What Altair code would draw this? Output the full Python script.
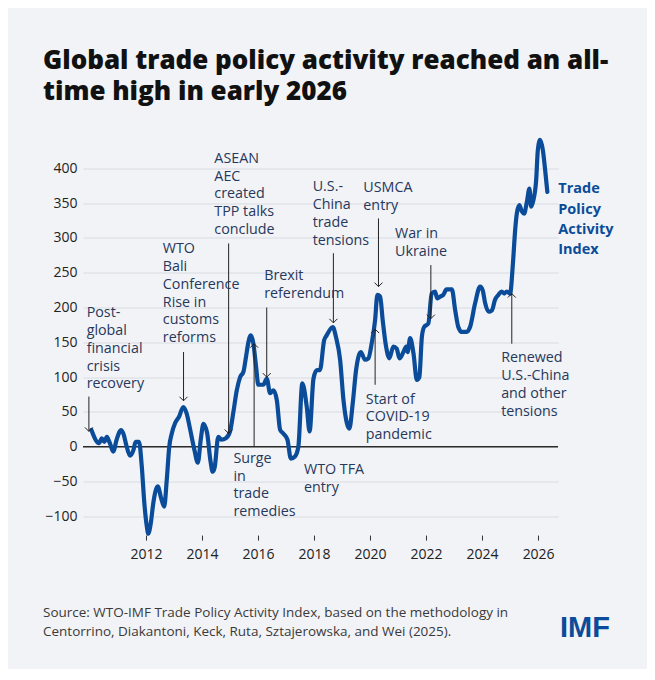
import altair as alt
import pandas as pd

# ---- data ----
years = [2010.05, 2010.32, 2010.42, 2010.51, 2010.60, 2010.71, 2010.83, 2010.95, 2011.11, 2011.19,
         2011.31, 2011.43, 2011.55, 2011.63, 2011.75, 2011.85, 2011.94, 2012.03, 2012.08, 2012.17,
         2012.26, 2012.42, 2012.54, 2012.65, 2012.74, 2012.83, 2012.92, 2013.04, 2013.18, 2013.33,
         2013.45, 2013.57, 2013.73, 2013.85, 2013.96, 2014.05, 2014.18, 2014.30, 2014.38, 2014.45,
         2014.58, 2014.70, 2014.85, 2015.00, 2015.12, 2015.24, 2015.36, 2015.48, 2015.57, 2015.65,
         2015.74, 2015.83, 2015.93, 2016.01, 2016.19, 2016.31, 2016.43, 2016.55, 2016.67, 2016.79,
         2016.90, 2017.05, 2017.17, 2017.32, 2017.44, 2017.58, 2017.74, 2017.84, 2017.98, 2018.10,
         2018.21, 2018.36, 2018.45, 2018.67, 2018.78, 2018.93, 2019.05, 2019.17, 2019.26, 2019.38,
         2019.50, 2019.67, 2019.82, 2019.94, 2020.06, 2020.18, 2020.26, 2020.36, 2020.45, 2020.57,
         2020.69, 2020.83, 2020.95, 2021.05, 2021.19, 2021.29, 2021.34, 2021.43, 2021.55, 2021.67,
         2021.76, 2021.85, 2021.93, 2022.08, 2022.20, 2022.32, 2022.40, 2022.52, 2022.61, 2022.73,
         2022.92, 2023.04, 2023.15, 2023.27, 2023.45, 2023.57, 2023.75, 2023.93, 2024.02, 2024.11,
         2024.23, 2024.35, 2024.46, 2024.58, 2024.70, 2024.79, 2024.88, 2025.00, 2025.10, 2025.18,
         2025.24, 2025.33, 2025.42, 2025.50, 2025.60, 2025.69, 2025.75, 2025.83, 2025.93, 2025.99,
         2026.07, 2026.17, 2026.25, 2026.33]
index_values = [24, 5, 12, 7, 14, 5, -7, 10, 24, 19,
                0, -13, -5, 7, 7, -29, -81, -115, -125, -110,
                -81, -57, -74, -86, -48, 0, 19, 34, 43, 57,
                48, 26, -5, -23, 12, 33, 20, -20, -36, -30,
                14, 10, 12, 22, 50, 81, 100, 108, 129, 149,
                160, 149, 115, 89, 89, 98, 77, 81, 67, 24,
                19, 10, -17, -14, 0, 91, 57, 22, 98, 110,
                110, 153, 160, 172, 158, 125, 67, 34, 26, 62,
                110, 136, 125, 127, 149, 182, 218, 216, 182, 144,
                127, 144, 141, 127, 136, 144, 136, 156, 134, 96,
                100, 158, 172, 177, 220, 223, 213, 216, 218, 226,
                226, 196, 172, 165, 165, 172, 206, 230, 225, 206,
                194, 196, 211, 218, 223, 220, 223, 220, 263, 311,
                335, 347, 338, 335, 352, 371, 345, 354, 383, 426,
                441, 426, 398, 366]

ann_text = ["Post-\nglobal\nfinancial\ncrisis\nrecovery",
            "WTO\nBali\nConference\nRise in\ncustoms\nreforms",
            "ASEAN\nAEC\ncreated\nTPP talks\nconclude",
            "Brexit\nreferendum",
            "Surge\nin\ntrade\nremedies",
            "U.S.-\nChina\ntrade\ntensions",
            "USMCA\nentry",
            "War in\nUkraine",
            "Start of\nCOVID-19\npandemic",
            "WTO TFA\nentry",
            "Renewed\nU.S.-China\nand other\ntensions"]
ann_x = [2009.88, 2012.60, 2014.44, 2016.22, 2015.12, 2017.95, 2019.76, 2020.89, 2019.85, 2017.64, 2024.68]
ann_y = [186, 278, 408, 239, -23, 367, 366, 300, 62, -39, 121]

arrow_x = [2009.96, 2013.34, 2014.95, 2016.31, 2015.86, 2018.69, 2020.30, 2022.17, 2020.18, 2025.06]
arrow_from = [72, 136, 292, 200, 0, 278, 328, 261, 89, 148]
arrow_to = [22, 66, 19, 100, 148, 178, 230, 184, 169, 220]

series_label = "Trade\nPolicy\nActivity\nIndex"
series_label_x = [2026.72]
series_label_y = [364]

title_lines = ["Global trade policy activity reached an all-", "time high in early 2026"]
source_text = ("Source: WTO-IMF Trade Policy Activity Index, based on the methodology in\n"
               "Centorrino, Diakantoni, Keck, Ruta, Sztajerowska, and Wei (2025).")
logo_text = "IMF"

x_ticks = [2012, 2014, 2016, 2018, 2020, 2022, 2024, 2026]
y_ticks = [-100, -50, 0, 50, 100, 150, 200, 250, 300, 350, 400]

# ---- styling ----
FONT = "Open Sans"
BLUE = "#0a4c99"
NAVY = "#26385c"
BG = "#f2f3f6"

line_df = pd.DataFrame({"year": years, "value": index_values})
ann_df = pd.DataFrame({"x": ann_x, "y": ann_y, "label": ann_text})
arrow_df = pd.DataFrame({"x": arrow_x, "y1": arrow_from, "y2": arrow_to})
arrow_df["dir"] = ["down" if t < f else "up" for f, t in zip(arrow_from, arrow_to)]
lab_df = pd.DataFrame({"x": series_label_x, "y": series_label_y, "label": [series_label]})

xs = alt.Scale(domain=[2009.75, 2026.71], nice=False, zero=False)
ys = alt.Scale(domain=[-127, 450], nice=False, zero=False)

x_axis = alt.Axis(values=x_ticks, format="d", grid=False, domain=False, ticks=True,
                  tickSize=5, tickColor="#333333", tickWidth=1, labelFontSize=14,
                  labelColor="#222222", labelPadding=7, labelFont=FONT, title=None,
                  labelFlush=False)
y_axis = alt.Axis(values=y_ticks, grid=True, gridColor="#d8dbe1", gridWidth=1,
                  domain=False, ticks=False, labelFontSize=14, labelColor="#222222",
                  labelPadding=6, labelFont=FONT, title=None)

base_line = alt.Chart(line_df).mark_line(
    color=BLUE, strokeWidth=4.2, interpolate="monotone", strokeCap="round", strokeJoin="round"
).encode(
    x=alt.X("year:Q", scale=xs, axis=x_axis),
    y=alt.Y("value:Q", scale=ys, axis=y_axis),
)

zero_rule = alt.Chart(pd.DataFrame({"v": [0]})).mark_rule(
    color="#2b2b2b", strokeWidth=1.5
).encode(y=alt.Y("v:Q", scale=ys))

arrow_lines = alt.Chart(arrow_df).mark_rule(color="#222222", strokeWidth=1).encode(
    x=alt.X("x:Q", scale=xs), y=alt.Y("y1:Q", scale=ys), y2="y2:Q"
)

down_heads = alt.Chart(arrow_df[arrow_df["dir"] == "down"]).mark_point(
    shape="M-1,-1L0,0L1,-1", filled=False, stroke="#222222", strokeWidth=1, size=64, opacity=1
).encode(x=alt.X("x:Q", scale=xs), y=alt.Y("y2:Q", scale=ys))

up_heads = alt.Chart(arrow_df[arrow_df["dir"] == "up"]).mark_point(
    shape="M-1,1L0,0L1,1", filled=False, stroke="#222222", strokeWidth=1, size=64, opacity=1
).encode(x=alt.X("x:Q", scale=xs), y=alt.Y("y2:Q", scale=ys))

ann = alt.Chart(ann_df).mark_text(
    align="left", baseline="alphabetic", font=FONT, fontSize=14.3, color=NAVY,
    lineBreak="\n", lineHeight=17.8
).encode(x=alt.X("x:Q", scale=xs), y=alt.Y("y:Q", scale=ys), text="label:N")

series_lab = alt.Chart(lab_df).mark_text(
    align="left", baseline="alphabetic", font=FONT, fontSize=14.5, fontWeight="bold",
    color=BLUE, lineBreak="\n", lineHeight=20.3
).encode(x=alt.X("x:Q", scale=xs), y=alt.Y("y:Q", scale=ys), text="label:N")

source = alt.Chart(pd.DataFrame({"t": [source_text]})).mark_text(
    align="left", baseline="alphabetic", font=FONT, fontSize=13.5, color="#3a3a3a",
    lineBreak="\n", lineHeight=19
).encode(x=alt.value(-40), y=alt.value(484), text="t:N")

logo = alt.Chart(pd.DataFrame({"t": [logo_text]})).mark_text(
    align="left", baseline="alphabetic", font="Liberation Sans", fontSize=29,
    fontWeight="bold", color=BLUE
).encode(x=alt.value(477), y=alt.value(504), text="t:N")

chart = alt.layer(
    zero_rule, base_line, arrow_lines, down_heads, up_heads, ann, series_lab, source, logo
).properties(
    width=475,
    height=401.6,
    background=BG,
    padding={"left": 75, "top": 125.5, "right": 89, "bottom": 134},
    autosize=alt.AutoSizeParams(type="none"),
    title=alt.TitleParams(
        text=title_lines, anchor="start", frame="group", dx=-40, offset=2,
        font=FONT, fontSize=26, fontWeight=800, color="#111111", lineHeight=31.5,
        baseline="bottom"
    ),
).configure_view(strokeWidth=0)

chart.save("out.html", embed_options={"renderer": "svg", "actions": False})
